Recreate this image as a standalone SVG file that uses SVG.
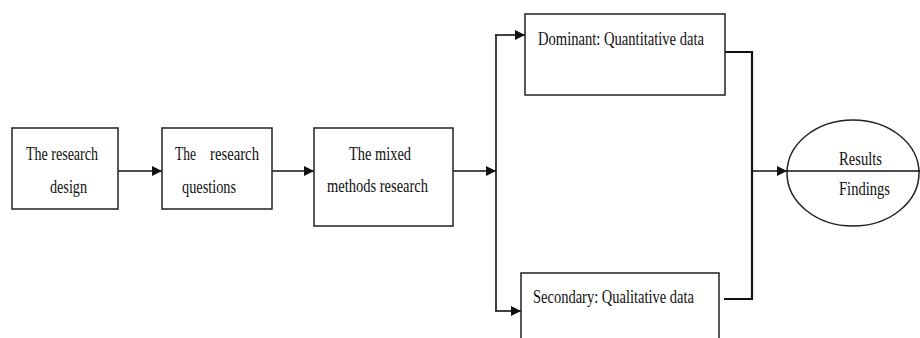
<svg xmlns="http://www.w3.org/2000/svg" width="920" height="338" viewBox="0 0 920 338">
<style>
.box{fill:#fff;stroke:#222;stroke-width:1.5}
.t{font-family:"Liberation Serif","Times New Roman",serif;font-size:19px;fill:#111}
.c{fill:none;stroke:#111;stroke-width:1.6}
.c2{fill:none;stroke:#111;stroke-width:2.2}
</style>
<defs>
<marker id="ah" viewBox="0 0 10 10" refX="10" refY="5" markerWidth="10" markerHeight="10" markerUnits="userSpaceOnUse" orient="auto">
<path d="M0,0 L10,5 L0,10 Z" fill="#111"/>
</marker>
</defs>
<rect width="920" height="338" fill="#fff"/>
<g id="connectors">
<line class="c" x1="118" y1="171" x2="162" y2="171" marker-end="url(#ah)"/>
<line class="c" x1="272" y1="171" x2="314" y2="171" marker-end="url(#ah)"/>
<line class="c" x1="453" y1="171" x2="496" y2="171" marker-end="url(#ah)"/>
<line class="c" x1="496" y1="35" x2="496" y2="311"/>
<line class="c" x1="495" y1="35" x2="525" y2="35" marker-end="url(#ah)"/>
<line class="c" x1="495" y1="311" x2="521" y2="311" marker-end="url(#ah)"/>
<polyline class="c2" points="725,52 752,52 752,299 724,299"/>
<line class="c" x1="752" y1="171" x2="787" y2="171" marker-end="url(#ah)"/>
</g>
<g id="n1">
<rect class="box" x="12" y="128" width="106" height="81"/>
<text class="t" x="26" y="160" textLength="72" lengthAdjust="spacingAndGlyphs">The research</text>
<text class="t" x="50" y="193" textLength="37" lengthAdjust="spacingAndGlyphs">design</text>
</g>
<g id="n2">
<rect class="box" x="162" y="128" width="110" height="81"/>
<text class="t" x="175" y="160" textLength="21" lengthAdjust="spacingAndGlyphs">The</text>
<text class="t" x="210" y="160" textLength="49" lengthAdjust="spacingAndGlyphs">research</text>
<text class="t" x="182" y="193" textLength="54" lengthAdjust="spacingAndGlyphs">questions</text>
</g>
<g id="n3">
<rect class="box" x="314" y="128" width="139" height="98"/>
<text class="t" x="349" y="160" textLength="62" lengthAdjust="spacingAndGlyphs">The mixed</text>
<text class="t" x="327" y="192" textLength="101" lengthAdjust="spacingAndGlyphs">methods research</text>
</g>
<g id="n4">
<rect class="box" x="525" y="14" width="200" height="81"/>
<text class="t" x="538" y="45" textLength="166" lengthAdjust="spacingAndGlyphs">Dominant: Quantitative data</text>
</g>
<g id="n5">
<rect class="box" x="521" y="273" width="198" height="80"/>
<text class="t" x="533" y="303" textLength="161" lengthAdjust="spacingAndGlyphs">Secondary: Qualitative data</text>
</g>
<g id="n6">
<ellipse class="box" cx="853" cy="173" rx="66" ry="53"/>
<line class="c" x1="787" y1="171" x2="920" y2="171"/>
<text class="t" x="839" y="165" textLength="43" lengthAdjust="spacingAndGlyphs">Results</text>
<text class="t" x="839" y="195" textLength="51" lengthAdjust="spacingAndGlyphs">Findings</text>
</g>
</svg>
